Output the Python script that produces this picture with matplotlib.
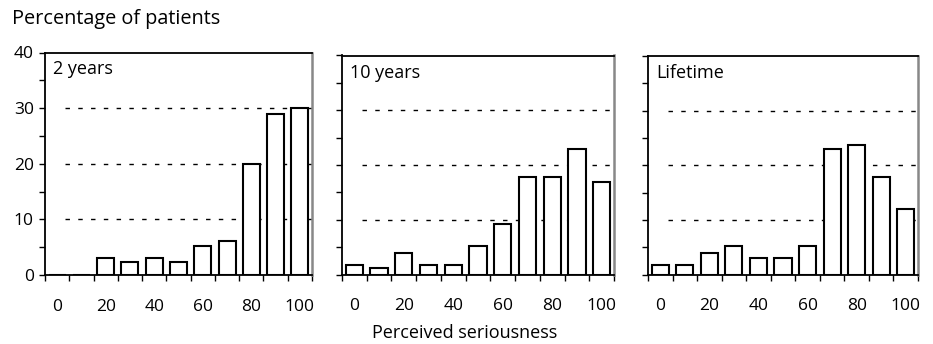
import matplotlib
matplotlib.use("Agg")
import matplotlib.pyplot as plt
from matplotlib.ticker import FixedLocator

plt.rcParams['font.family'] = ['Open Sans', 'DejaVu Sans']

W, H = 933, 344

categories = [0, 10, 20, 30, 40, 50, 60, 70, 80, 90, 100]
xtick_labels = [0, 20, 40, 60, 80, 100]
panel_titles = ["2 years", "10 years", "Lifetime"]
values_2y = [0, 0, 3.0, 2.3, 3.0, 2.3, 5.2, 6.2, 20.0, 29.0, 30.0]
values_10y = [1.8, 1.2, 4.0, 1.8, 1.8, 5.2, 9.2, 17.8, 17.8, 23.0, 16.9]
values_life = [1.8, 1.8, 4.0, 5.2, 3.0, 3.0, 5.2, 23.0, 23.7, 17.8, 12.0]
yticks = [0, 10, 20, 30, 40]
ylabel = "Percentage of patients"
xlabel = "Perceived seriousness"

series = [values_2y, values_10y, values_life]

# pixel boxes: left, top, right, bottom
boxes = [(45, 52.5, 312, 275), (342, 55.5, 614, 274.5), (648, 56, 918, 274.5)]

FS_TICK = 12.5
FS_LAB = 13

fig = plt.figure(figsize=(W / 100, H / 100), dpi=100)

for i, (vals, title, (l, t, r, b)) in enumerate(zip(series, panel_titles, boxes)):
    ax = fig.add_axes([l / W, 1 - b / H, (r - l) / W, (b - t) / H])
    ax.set_xlim(-5, 105)
    ax.set_ylim(0, 40)
    for yv in [10, 20, 30]:
        ax.axhline(yv, xmin=0.075, xmax=1, color='black', lw=1.0,
                   linestyle=(0, (3.2, 6.0)), zorder=1)
    ax.bar(categories, vals, width=7.0, color='white', edgecolor='black',
           linewidth=1.5, zorder=2)
    ax.text(8 / (r - l), 1 - 8 / (b - t), title, transform=ax.transAxes,
            ha='left', va='top', fontsize=FS_LAB)
    ax.spines['top'].set_color('black')
    ax.spines['left'].set_color('black')
    ax.spines['bottom'].set_color('black')
    ax.spines['right'].set_color('#888888')
    for s in ax.spines.values():
        s.set_linewidth(1.3)
    ax.spines['right'].set_linewidth(1.8)
    ax.xaxis.set_major_locator(FixedLocator(xtick_labels))
    ax.set_xticklabels([str(v) for v in xtick_labels], fontsize=FS_TICK)
    ax.xaxis.set_minor_locator(FixedLocator([c - 5 for c in categories] + [105]))
    ax.tick_params(axis='x', which='major', length=0, pad=17)
    ax.tick_params(axis='x', which='minor', length=4, width=1.0, direction='out')
    ax.yaxis.set_major_locator(FixedLocator(yticks))
    ax.yaxis.set_minor_locator(FixedLocator([5, 15, 25, 35]))
    ax.tick_params(axis='y', which='both', length=4, width=1.0, direction='out',
                   labelsize=FS_TICK, pad=4)
    if i > 0:
        ax.set_yticklabels([])

fig.text(465 / W, 1 - 338 / H, xlabel, ha='center', va='baseline', fontsize=FS_LAB)
fig.text(12 / W, 1 - 9 / H, ylabel, ha='left', va='top', fontsize=14.3)

fig.savefig("out.png", dpi=100)
